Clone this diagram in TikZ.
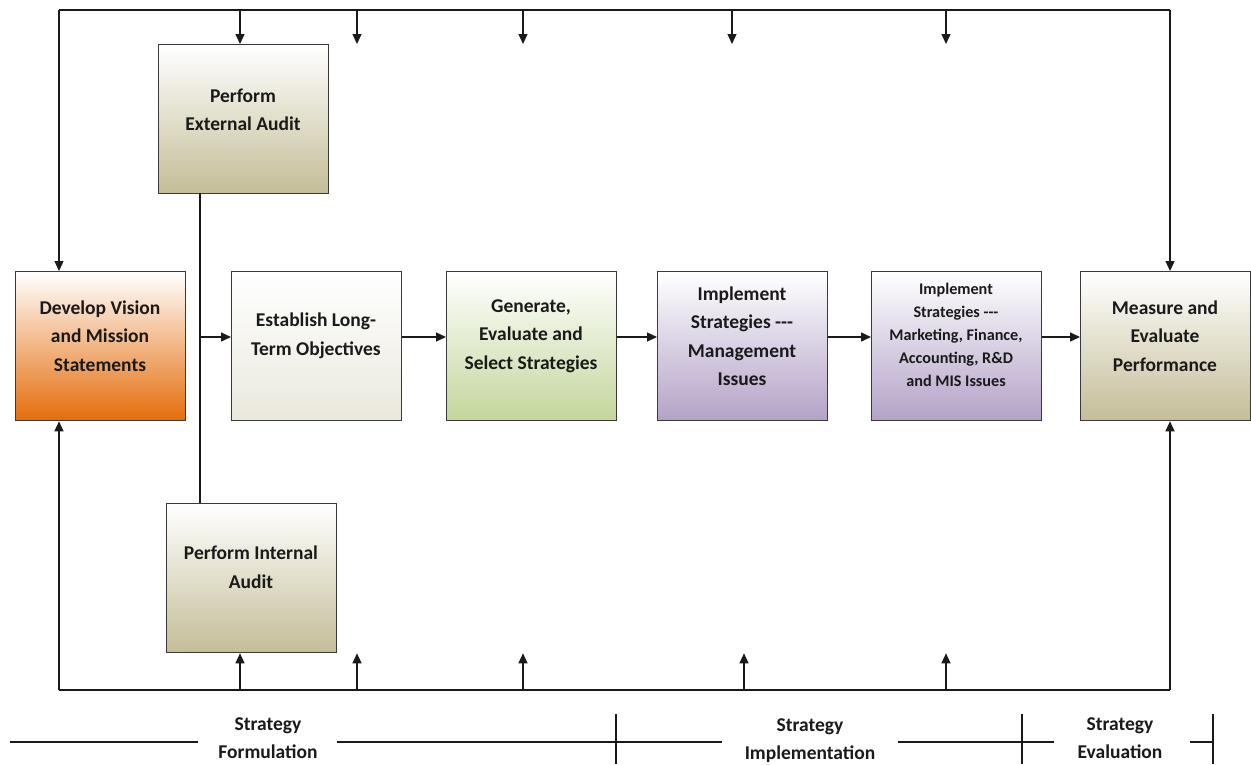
\documentclass[tikz,border=0pt]{standalone}
\usepackage{fontspec}
\setmainfont{Carlito}
\usetikzlibrary{arrows.meta}
\definecolor{boxline}{HTML}{3A3A3A}
\definecolor{tanc}{HTML}{C4BD97}
\definecolor{orangec}{HTML}{E46C0A}
\definecolor{beigec}{HTML}{EAE8DC}
\definecolor{greenc}{HTML}{C3D69B}
\definecolor{purplec}{HTML}{B3A2C7}
\definecolor{ink}{HTML}{1A1A1A}
\newcommand{\hy}{\mbox{-}\mbox{-}\mbox{-}}
\begin{document}
\begin{tikzpicture}[x=1pt,y=-1pt,
  box/.style={draw=boxline, line width=1.3pt, minimum width=170pt, minimum height=149pt, inner sep=0pt, anchor=north west, shade, top color=white},
  txt/.style={font=\bfseries\fontsize{19.5}{28.5}\selectfont, align=center, text=ink, inner sep=0pt},
  smalltxt/.style={font=\bfseries\fontsize{16.2}{23}\selectfont, align=center, text=ink, inner sep=0pt},
  conn/.style={line width=1.3pt, draw=ink},
  arr/.style={conn, -{Triangle[length=10pt,width=9pt]}}]
\useasboundingbox (0,0) rectangle (1251,764);
\fill[white] (0,0) rectangle (1251,764);

% boxes
\node[box, bottom color=tanc] (ext) at (158,44) {};
\node[box, bottom color=orangec] (vis) at (15,271) {};
\node[box, bottom color=beigec] (obj) at (231,271) {};
\node[box, bottom color=greenc] (gen) at (446,271) {};
\node[box, bottom color=purplec] (imp) at (657,271) {};
\node[box, bottom color=purplec] (mkt) at (871,271) {};
\node[box, bottom color=tanc] (meas) at (1080,271) {};
\node[box, bottom color=tanc] (int) at (166,503) {};

% texts
\node[txt] (extT) at (243,110) {Perform\\External Audit};
\node[txt] (visT) at (100,336) {Develop Vision\\and Mission\\Statements};
\node[txt] (objT) at (316,336) {Establish Long-\\Term Objectives};
\node[txt] (genT) at (531,336) {Generate,\\Evaluate and\\Select Strategies};
\node[txt] (impT) at (742,336) {Implement\\Strategies \hy\\Management\\Issues};
\node[smalltxt] (mktT) at (956,335) {Implement\\Strategies \hy\\Marketing, Finance,\\Accounting, R\&D\\and MIS Issues};
\node[txt] (measT) at (1165,336) {Measure and\\Evaluate\\Performance};
\node[txt] (intT) at (251,567) {Perform Internal\\Audit};

% frame coordinates
\coordinate (tl) at (59,10);
\coordinate (tr) at (1170,10);
\coordinate (bl) at (59,690);
\coordinate (br) at (1170,690);
\draw[conn] (tl) -- (tr);
\draw[conn] (bl) -- (br);
\draw[arr] (tl) -- (tl |- vis.north);
\draw[arr] (tr) -- (tr |- meas.north);
\draw[arr] (bl) -- (bl |- vis.south);
\draw[arr] (br) -- (br |- meas.south);

% top drop arrows
\foreach \n/\x in {t1/240,t2/357,t3/523,t4/732,t5/946}{
  \coordinate (\n) at (\x,10);
  \draw[arr] (\n) -- (\n |- ext.north);
}
% bottom rise arrows
\foreach \n/\x in {b1/240,b2/357,b3/523,b4/744,b5/946}{
  \coordinate (\n) at (\x,690);
  \draw[arr] (\n) -- (\n |- int.south);
}

% audit vertical link
\coordinate (ax) at (200,193);
\coordinate (aj) at (200,337);
\draw[conn] (ax) -- (ax |- int.north);
\draw[arr] (aj) -- (aj -| obj.west);

% main flow
\draw[arr] (obj.east |- aj) -- (gen.west |- aj);
\draw[arr] (gen.east |- aj) -- (imp.west |- aj);
\draw[arr] (imp.east |- aj) -- (mkt.west |- aj);
\draw[arr] (mkt.east |- aj) -- (meas.west |- aj);

% bottom phase labels
\node[txt] (sf) at (268,738) {Strategy\\Formulation};
\node[txt] (si) at (810,740.5) {Strategy\\Implementation};
\node[txt] (se) at (1120,738) {Strategy\\Evaluation};

\coordinate (l0) at (10,742);
\coordinate (l1) at (198,742);
\coordinate (l2) at (337,742);
\coordinate (l3) at (722,742);
\coordinate (l4) at (898,742);
\coordinate (l5) at (1054,742);
\coordinate (l6) at (1190,742);
\coordinate (l7) at (1213,742);
\draw[conn] (l0) -- (l1);
\draw[conn] (l2) -- (l3);
\draw[conn] (l4) -- (l5);
\draw[conn] (l6) -- (l7);
\foreach \n/\x in {k1/616,k2/1022,k3/1213}{
  \coordinate (\n) at (\x,714);
  \draw[conn] (\n) -- ++(0,50);
}
\end{tikzpicture}
\end{document}
